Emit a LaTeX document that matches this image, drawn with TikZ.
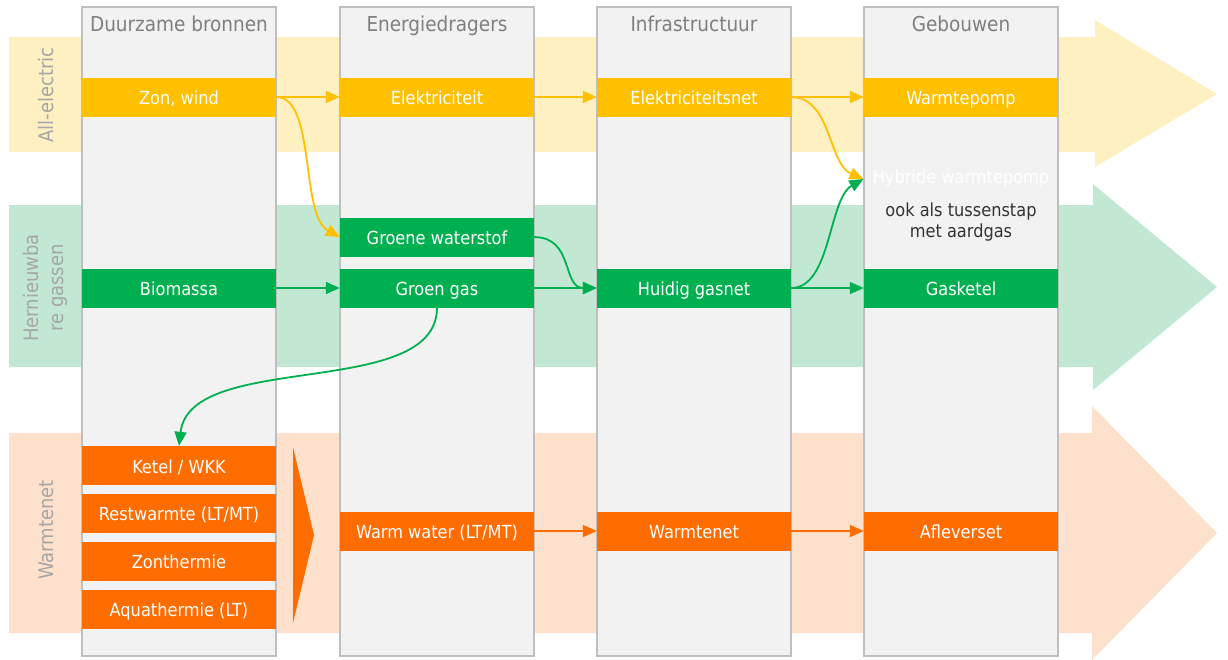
\documentclass[tikz,border=0pt]{standalone}
\usepackage{fontspec}
\setmainfont{DejaVu Sans Condensed}
\usepackage{tikz}
\usetikzlibrary{arrows.meta,positioning}
\pgfdeclarelayer{background layer}
\pgfsetlayers{background layer,main}
\definecolor{colfill}{HTML}{F2F2F2}
\definecolor{colline}{HTML}{BFBFBF}
\definecolor{hdrgrey}{HTML}{7F7F7F}
\definecolor{lblgrey}{HTML}{A6A6A6}
\definecolor{notetext}{HTML}{333333}
\definecolor{elec}{HTML}{FFC000}
\definecolor{gas}{HTML}{00B050}
\definecolor{heat}{HTML}{FF6C00}
\definecolor{elecband}{HTML}{FFF0C2}
\definecolor{gasband}{HTML}{C2E8D4}
\definecolor{heatband}{HTML}{FDE1CC}

\begin{document}
\begin{tikzpicture}[x=1pt,y=-1pt]
\tikzstyle{column}=[draw=colline,fill=colfill,line width=1.2pt,minimum width=194pt,minimum height=649pt,inner sep=0pt]
\tikzstyle{header}=[text=hdrgrey,anchor=base,font=\fontsize{20.5}{22}\selectfont]
\tikzstyle{bandlabel}=[text=lblgrey,rotate=90,align=center,font=\fontsize{20}{25}\selectfont]
\tikzstyle{box}=[minimum width=194pt,minimum height=39pt,inner sep=0pt,text height=15pt,text depth=0pt,text=white,font=\fontsize{18}{18}\selectfont]
\tikzstyle{elbox}=[box,fill=elec]
\tikzstyle{gasbox}=[box,fill=gas]
\tikzstyle{heatbox}=[box,fill=heat]
\tikzstyle{note}=[inner sep=0pt,align=center,font=\fontsize{18}{21}\selectfont]
\tikzstyle{arrow}=[line width=1.8pt,-{Triangle[length=14pt,width=12pt]}]
\useasboundingbox (0,0) rectangle (1228,659);
\begin{pgfonlayer}{background layer}
% bands
\fill [elecband] (9,37) -- (1095,37) -- (1095,20) -- (1217,94) -- (1095,167) -- (1095,152) -- (9,152) -- cycle;
\fill [gasband] (9,205) -- (1093,205) -- (1093,184) -- (1217,287) -- (1093,390) -- (1093,367) -- (9,367) -- cycle;
\fill [heatband] (9,433) -- (1092,433) -- (1092,406) -- (1217,533) -- (1092,660) -- (1092,633) -- (9,633) -- cycle;
% columns
\node [column] (col1) at (179,331.5) {};
\node [column] (col2) at (437,331.5) {};
\node [column] (col3) at (694,331.5) {};
\node [column] (col4) at (961,331.5) {};
\end{pgfonlayer}
\node [bandlabel] (lblel) at (46,95) {All-electric};
\node [bandlabel] (lblgas) at (45.5,288) {Hernieuwba\\re gassen};
\node [bandlabel] (lblheat) at (46,530) {Warmtenet};
\node [header] (hdr1) at ([yshift=-25pt]col1.north) {Duurzame bronnen};
\node [header] (hdr2) at ([yshift=-25pt]col2.north) {Energiedragers};
\node [header] (hdr3) at ([yshift=-25pt]col3.north) {Infrastructuur};
\node [header] (hdr4) at ([yshift=-25pt]col4.north) {Gebouwen};
% all-electric
\node [elbox] (zon) at (179,97) {Zon, wind};
\node [elbox] (elek) at (col2 |- zon) {Elektriciteit};
\node [elbox] (elnet) at (col3 |- zon) {Elektriciteitsnet};
\node [elbox] (wp) at (col4 |- zon) {Warmtepomp};
\node [note,text=white] (hybride) at (961,179) {Hybride warmtepomp};
\node [note,text=notetext] (tussen) at (961,222) {ook als tussenstap\\met aardgas};
\coordinate (hyb) at (col4.west |- hybride);
% gassen
\node [gasbox] (biomassa) at (179,288) {Biomassa};
\node [gasbox] (groengas) at (col2 |- biomassa) {Groen gas};
\node [gasbox,above=11.5pt of groengas] (waterstof) {Groene waterstof};
\node [gasbox] (gasnet) at (col3 |- biomassa) {Huidig gasnet};
\node [gasbox] (gasketel) at (col4 |- biomassa) {Gasketel};
% warmtenet
\node [heatbox] (ketel) at (179,465.5) {Ketel / WKK};
\node [heatbox,below=8.5pt of ketel] (rest) {Restwarmte (LT/MT)};
\node [heatbox,below=8.5pt of rest] (zonth) {Zonthermie};
\node [heatbox,below=8.5pt of zonth] (aqua) {Aquathermie (LT)};
\fill [heat] (293,447) -- (314,535) -- (293,623) -- cycle;
\node [heatbox] (warmwater) at (437,531) {Warm water (LT/MT)};
\node [heatbox] (warmtenet) at (col3 |- warmwater) {Warmtenet};
\node [heatbox] (afleverset) at (col4 |- warmwater) {Afleverset};
% connectors
\draw [arrow,elec] (zon) -- (elek);
\draw [arrow,elec] (zon.east) .. controls +(40,0) and +(-40,-22) .. (waterstof.west);
\draw [arrow,elec] (elek) -- (elnet);
\draw [arrow,elec] (elnet) -- (wp);
\draw [arrow,elec] (elnet.east) .. controls +(40,0) and +(-35,-15) .. (hyb);
\draw [arrow,gas] (biomassa) -- (groengas);
\draw [arrow,gas] (groengas) -- (gasnet);
\draw [arrow,gas] (waterstof.east) .. controls +(40,0) and +(-35,0) .. (gasnet.west);
\draw [arrow,gas] (gasnet) -- (gasketel);
\draw [arrow,gas] (gasnet.east) .. controls +(40,0) and +(-35,20) .. (hyb);
\draw [arrow,gas] (groengas.south) .. controls +(0,93) and +(11,-96) .. (ketel.north);
\draw [arrow,heat] (warmwater) -- (warmtenet);
\draw [arrow,heat] (warmtenet) -- (afleverset);
\end{tikzpicture}
\end{document}
